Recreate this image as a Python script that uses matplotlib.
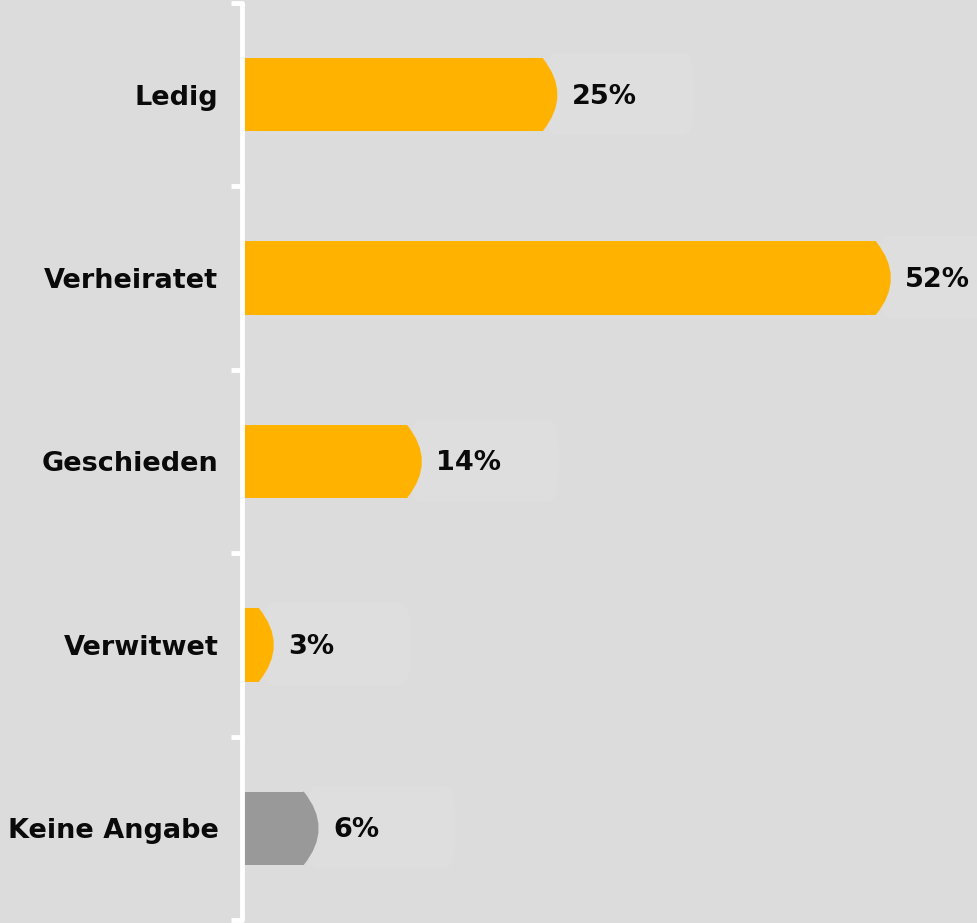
import numpy as np
import matplotlib.pyplot as plt
from matplotlib.path import Path
from matplotlib.patches import PathPatch, FancyBboxPatch

categories = ["Ledig", "Verheiratet", "Geschieden", "Verwitwet", "Keine Angabe"]
values = [25.2, 52.0, 14.3, 2.4, 6.0]
labels = ["25%", "52%", "14%", "3%", "6%"]
colors = ["#FFB300", "#FFB300", "#FFB300", "#FFB300", "#999999"]

bg = "#dcdcdc"
W, H = 977, 923
fig = plt.figure(figsize=(W / 100, H / 100), dpi=100, facecolor=bg)
ax = fig.add_axes([242 / W, 3 / H, (W - 242) / W, 917 / H], facecolor=bg)

px = 12.44  # pixels per percent
ax.set_xlim(-2 / px, (W - 244) / px)
ax.set_ylim(len(categories) - 0.5, -0.5)

bar_h = 0.40
cap = 1.2  # width of the rounded end, in data units

for i, (v, lab, c) in enumerate(zip(values, labels, colors)):
    # faint box behind the value label
    box = FancyBboxPatch((v - 1.0, i - 0.23), 12.0, 0.45,
                         boxstyle="round,pad=0,rounding_size=0.9",
                         mutation_aspect=0.2, fc="#dedede", ec="none", zorder=1)
    ax.add_patch(box)
    ax.barh(i, v - cap, height=bar_h, color=c, zorder=2, linewidth=0)
    top, bot = i - bar_h / 2, i + bar_h / 2
    verts = [(v - cap - 0.05, top), (v - cap, top), (v + cap, i), (v - cap, bot),
             (v - cap - 0.05, bot), (v - cap - 0.05, top)]
    codes = [Path.MOVETO, Path.LINETO, Path.CURVE3, Path.CURVE3,
             Path.LINETO, Path.CLOSEPOLY]
    ax.add_patch(PathPatch(Path(verts, codes), fc=c, ec="none", zorder=2))
    ax.text(v + 1.15, i + 0.01, lab, va="center", ha="left", fontsize=19.5,
            fontweight="bold", family="DejaVu Sans", color="#0a0a0a", zorder=3)

ax.set_yticks(range(len(categories)))
ax.set_yticklabels(categories, fontsize=19.5, fontweight="bold",
                   family="DejaVu Sans", color="#0a0a0a")
ax.tick_params(axis="y", which="major", length=0, pad=17)
ax.set_yticks(np.arange(-0.5, len(categories)), minor=True)
ax.tick_params(axis="y", which="minor", length=8, width=3.5, color="white",
               direction="out")
ax.set_xticks([])

for s in ["top", "right", "bottom"]:
    ax.spines[s].set_visible(False)
ax.spines["left"].set_color("white")
ax.spines["left"].set_linewidth(3.5)
ax.spines["left"].set_capstyle("round")
ax.spines["left"].set_zorder(4)

fig.savefig("out.png", dpi=100, facecolor=bg)
